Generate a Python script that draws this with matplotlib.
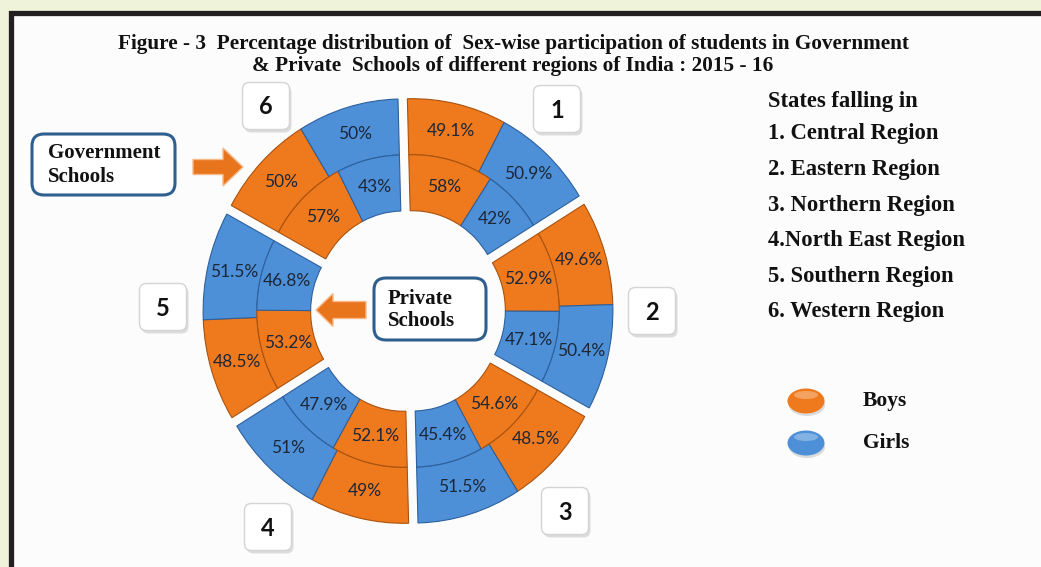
import numpy as np
import matplotlib.pyplot as plt
from matplotlib.patches import Rectangle, FancyBboxPatch, Ellipse, FancyArrow

# data
region_ids = ['1', '2', '3', '4', '5', '6']
region_names = ['1. Central Region', '2. Eastern Region', '3. Northern Region',
                '4.North East Region', '5. Southern Region', '6. Western Region']
gov_boys = [49.1, 49.6, 48.5, 49, 48.5, 50]
gov_girls = [50.9, 50.4, 51.5, 51, 51.5, 50]
pvt_boys = [58, 52.9, 54.6, 52.1, 53.2, 57]
pvt_girls = [42, 47.1, 45.4, 47.9, 46.8, 43]

orange = '#ef7a1e'
blue = '#4d90d8'
orange_edge = '#a9520f'
blue_edge = '#2d609c'
serif = 'Liberation Serif'

W, H = 1041, 567
fig = plt.figure(figsize=(W / 100, H / 100), dpi=100)
fig.patch.set_facecolor('#eef3da')

# background axes in pixel coordinates
bg = fig.add_axes([0, 0, 1, 1])
bg.set_xlim(0, W)
bg.set_ylim(H, 0)
bg.axis('off')
bg.add_patch(Rectangle((10.5, 12.5), 1200, 700, facecolor='#fcfcfc',
                       edgecolor='#231f20', linewidth=3.8))

bg.text(513, 44, 'Figure - 3  Percentage distribution of  Sex-wise participation of students in Government',
        ha='center', va='center', fontsize=15.3, fontweight='bold', family=serif, color='#111111')
bg.text(513, 66, '& Private  Schools of different regions of India : 2015 - 16',
        ha='center', va='center', fontsize=15.3, fontweight='bold', family=serif, color='#111111')

# region number boxes
box_pos = [(557, 109), (652, 311), (565, 511), (268, 527), (163, 307), (266, 106)]
for rid, (x, y) in zip(region_ids, box_pos):
    bg.add_patch(FancyBboxPatch((x - 18, y - 17), 40, 40, boxstyle='round,pad=3.5,rounding_size=7',
                                facecolor='#c8c8c8', edgecolor='none', alpha=0.6, zorder=2))
    bg.add_patch(FancyBboxPatch((x - 20, y - 20), 40, 40, boxstyle='round,pad=3.5,rounding_size=7',
                                facecolor='white', edgecolor='#d4d4d4', linewidth=1, zorder=3))
    bg.text(x, y + 1, rid, ha='center', va='center', fontsize=17, fontweight='bold',
            family='Lato', color='#111111', zorder=4)

# right side list
bg.text(768, 101, 'States falling in', ha='left', va='center', fontsize=16.3,
        fontweight='bold', family=serif, color='#111111')
for i, name in enumerate(region_names):
    bg.text(768, 134 + i * 35.6, name, ha='left', va='center', fontsize=16.3,
            fontweight='bold', family=serif, color='#111111')

# boys / girls legend
for (y, col, lab) in [(401, orange, 'Boys'), (443, blue, 'Girls')]:
    bg.add_patch(Ellipse((807, y + 4), 36, 22, facecolor='#bbbbbb', alpha=0.5, zorder=2))
    bg.add_patch(Ellipse((806, y), 37, 25, facecolor=col, edgecolor='none', zorder=3))
    bg.add_patch(Ellipse((806, y - 6), 24, 8, facecolor='white', alpha=0.3, zorder=4))
    bg.text(863, y, lab, ha='left', va='center', fontsize=15.5, fontweight='bold',
            family=serif, color='#111111')

# callout boxes
bg.add_patch(FancyBboxPatch((32, 134), 143, 61, boxstyle='round,pad=0,rounding_size=12',
                            facecolor='white', edgecolor='#2f5f8f', linewidth=2.2, zorder=3))
bg.text(48, 165, 'Government\nSchools', ha='left', va='center', fontsize=15,
        fontweight='bold', family=serif, color='#111111', linespacing=1.2, zorder=4)
bg.add_patch(FancyBboxPatch((374, 278), 112, 62, boxstyle='round,pad=0,rounding_size=12',
                            facecolor='white', edgecolor='#2f5f8f', linewidth=2.2, zorder=3))
bg.text(388, 310, 'Private\nSchools', ha='left', va='center', fontsize=15,
        fontweight='bold', family=serif, color='#111111', linespacing=1.2, zorder=4)

# arrows
bg.add_patch(FancyArrow(193, 167, 50, 0, width=15, head_width=38, head_length=20,
                        length_includes_head=True, facecolor='#e8741c', edgecolor='#f6b98a',
                        linewidth=1, zorder=3))
bg.add_patch(FancyArrow(366, 310, -50, 0, width=17, head_width=33, head_length=17,
                        length_includes_head=True, facecolor='#e8741c', edgecolor='#f6b98a',
                        linewidth=1, zorder=3))

# donut axes: centre at (408, 311) px, slightly taller than wide
cx_px, cy_px = 408, 311
sx, sy = 195.5, 203.7
lim = 1.2
ax = fig.add_axes([(cx_px - lim * sx) / W, (H - cy_px - lim * sy) / H,
                   2 * lim * sx / W, 2 * lim * sy / H])
ax.patch.set_alpha(0)

start0 = 91.5
explode = 0.048
ring = 0.275
outer_r = 1.0
inner_r = outer_r - ring

for i in range(6):
    start = start0 - 60 * i
    mid = np.deg2rad(start - 30)
    c = (explode * np.cos(mid), explode * np.sin(mid))
    for r, vals in [(outer_r, (gov_boys[i], gov_girls[i])), (inner_r, (pvt_boys[i], pvt_girls[i]))]:
        wedges, _ = ax.pie([v / 600 for v in vals], startangle=start, counterclock=False,
                           radius=r, center=c, colors=[orange, blue], normalize=False,
                           wedgeprops=dict(width=ring, linewidth=0.8))
        for w, v, ec in zip(wedges, vals, [orange_edge, blue_edge]):
            w.set_edgecolor(ec)
            a = np.deg2rad((w.theta1 + w.theta2) / 2)
            rr = w.r - w.width / 2
            ax.text(w.center[0] + rr * np.cos(a), w.center[1] + rr * np.sin(a), f'{v:g}%',
                    ha='center', va='center', fontsize=12.5, family='Lato', color='#1c2738')

ax.set_aspect('auto')
ax.set_xlim(-lim, lim)
ax.set_ylim(-lim, lim)
ax.axis('off')

fig.savefig('out.png', dpi=100, facecolor=fig.get_facecolor())
